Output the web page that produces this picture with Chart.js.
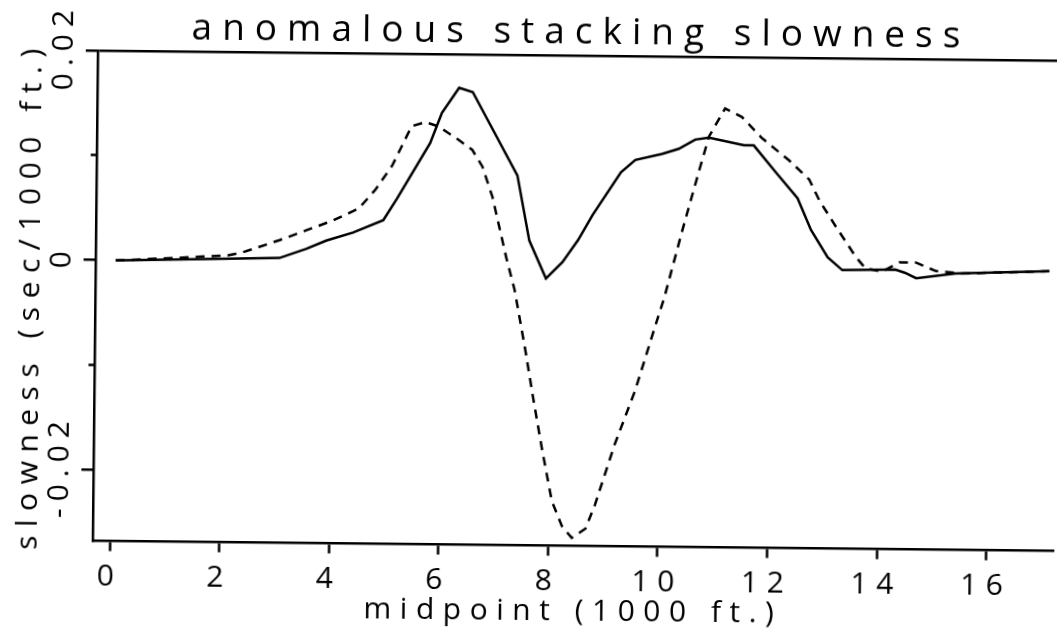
<!DOCTYPE html>
<html lang="en">
<head>
  <meta charset="UTF-8">
  <title>anomalous stacking slowness</title>
  <script src="https://cdn.jsdelivr.net/npm/chart.js"></script>
  <style>
    html, body { margin: 0; padding: 0; background: #fff; overflow: hidden; }
    /* the scanned plot sits slightly rotated on the page */
    #wrap { width: 1057px; height: 637px; transform: rotate(0.6deg); }
  </style>
</head>
<body>
  <div id="wrap"><canvas id="chart" width="1057" height="637"></canvas></div>

  <script>
    // midpoint (1000 ft.) and slowness (sec/1000 ft.)
    const solidX = [0.05, 3.04, 3.53, 3.89, 4.38, 4.93, 5.18, 5.77, 5.98, 6.29, 6.54, 7.37, 7.6, 7.91, 8.21, 8.49, 8.75,
                    9.26, 9.52, 10.01, 10.31, 10.61, 10.86, 11.5, 11.68, 12.08, 12.49, 12.74, 13.05, 13.32, 14.29, 14.47,
                    14.67, 15.39, 17.1];
    const solidY = [0, 0.0004, 0.0013, 0.0021, 0.0029, 0.0041, 0.0062, 0.0115, 0.0144, 0.0168, 0.0164, 0.0085, 0.0023,
                    -0.0013, 0.0003, 0.0024, 0.0048, 0.0089, 0.0101, 0.0107, 0.0112, 0.0121, 0.0123, 0.0116, 0.0116,
                    0.0091, 0.0066, 0.0036, 0.001, -0.0002, -0.0001, -0.0004, -0.0009, -0.0004, -0.0001];

    const dashX = [0.05, 1.15, 2.1, 2.37, 3.04, 4.0, 4.48, 4.78, 5.08, 5.43, 5.68, 5.92, 6.3, 6.54, 6.73, 6.92, 7.18,
                   7.34, 7.55, 7.71, 7.88, 8.06, 8.25, 8.43, 8.68, 8.85, 9.2, 9.56, 9.91, 10.07, 10.39, 10.69, 10.86,
                   11.15, 11.46, 11.83, 12.33, 12.7, 12.89, 13.2, 13.56, 13.74, 14.05, 14.36, 14.66, 15.03, 15.5, 17.1];
    const dashY = [0, 0.0003, 0.0006, 0.0009, 0.0021, 0.004, 0.0052, 0.007, 0.0093, 0.0131, 0.0135, 0.0131, 0.0118,
                   0.0109, 0.0093, 0.0064, 0.0007, -0.0024, -0.0082, -0.013, -0.0178, -0.0225, -0.0249, -0.026,
                   -0.0251, -0.0228, -0.017, -0.0119, -0.0058, -0.0031, 0.0034, 0.0092, 0.0124, 0.0151, 0.0143,
                   0.0123, 0.0102, 0.0084, 0.0064, 0.0039, 0.0011, 0, -0.0003, 0.0006, 0.0006, -0.0002, -0.0004,
                   -0.0001];

    const xTicks = [0, 2, 4, 6, 8, 10, 12, 14, 16];
    const yMajorTicks = [-0.02, 0, 0.02];
    const yMinorTicks = [-0.01, 0.01];
    const yTickLabels = ['-0.02', '0', '0.02'];

    const titleText = 'anomalous stacking slowness';
    const xTitle = 'midpoint (1000 ft.)';
    const yTitle = 'slowness (sec/1000 ft.)';

    const FAMILY = "'Open Sans', 'DejaVu Sans', sans-serif";
    const SPACING = 8.5;
    const TITLE_SPACING = 10;

    const toPoints = (xs, ys) => xs.map((x, i) => ({ x: x, y: ys[i] }));

    // plotter-style wide lettering, rotated y tick labels and the title
    const plotterText = {
      id: 'plotterText',
      beforeDraw(chart) {
        chart.ctx.letterSpacing = SPACING + 'px';
      },
      afterDraw(chart) {
        const ctx = chart.ctx;
        const yScale = chart.scales.y;
        ctx.save();
        ctx.fillStyle = '#000';
        ctx.font = '30px ' + FAMILY;
        ctx.letterSpacing = '7px';
        ctx.textAlign = 'left';
        ctx.textBaseline = 'middle';
        yMajorTicks.forEach((v, i) => {
          const label = yTickLabels[i];
          const w = ctx.measureText(label).width - 7;
          ctx.save();
          ctx.translate(61, yScale.getPixelForValue(v));
          ctx.rotate(-Math.PI / 2);
          ctx.fillText(label, -w / 2, 0);
          ctx.restore();
        });

        ctx.font = '37px ' + FAMILY;
        ctx.letterSpacing = TITLE_SPACING + 'px';
        ctx.textBaseline = 'alphabetic';
        const tw = ctx.measureText(titleText).width - TITLE_SPACING;
        ctx.fillText(titleText, 573 - tw / 2, 43);
        ctx.restore();
      }
    };

    const axisFont = { family: FAMILY, size: 30, weight: 'normal' };

    new Chart(document.getElementById('chart').getContext('2d'), {
      type: 'line',
      data: {
        datasets: [
          {
            label: 'solid',
            data: toPoints(solidX, solidY),
            borderColor: '#000',
            borderWidth: 2.5,
            pointRadius: 0,
            tension: 0
          },
          {
            label: 'dashed',
            data: toPoints(dashX, dashY),
            borderColor: '#000',
            borderWidth: 2.5,
            borderDash: [9, 7],
            pointRadius: 0,
            tension: 0
          }
        ]
      },
      options: {
        responsive: false,
        animation: false,
        devicePixelRatio: 1,
        layout: { padding: { top: 55, left: 0, right: 0, bottom: 0 } },
        plugins: {
          legend: { display: false },
          title: { display: false },
          tooltip: { enabled: false }
        },
        scales: {
          x: {
            type: 'linear',
            min: -0.316,
            max: 17.25,
            afterBuildTicks: s => { s.ticks = xTicks.map(v => ({ value: v })); },
            afterFit: s => { s.height = 91.5; },
            grid: { drawOnChartArea: false, drawTicks: true, tickLength: 10, tickWidth: 2.5, tickColor: '#000' },
            border: { display: true, color: '#000', width: 2.5 },
            ticks: { color: '#000', font: axisFont, padding: 8, maxRotation: 0, autoSkip: false,
                     callback: v => String(v) },
            title: { display: true, text: xTitle, color: '#000', font: axisFont, padding: { top: 0, bottom: 8 } }
          },
          y: {
            position: 'left',
            weight: 1,
            min: -0.02677,
            max: 0.02,
            afterBuildTicks: s => { s.ticks = yMajorTicks.map(v => ({ value: v })); },
            afterFit: s => { s.width = 95; },
            grid: {
              color: c => (c.tick && c.tick.value === 0.02 ? '#000' : 'rgba(0,0,0,0)'),
              lineWidth: 2.5,
              drawTicks: true,
              tickLength: 12,
              tickWidth: 2.5,
              tickColor: '#000'
            },
            border: { display: true, color: '#000', width: 2.5 },
            ticks: { display: false },
            title: { display: true, text: yTitle, color: '#000', font: axisFont, padding: { top: 12, bottom: 0 } }
          },
          y2: {
            position: 'left',
            weight: 0,
            min: -0.02677,
            max: 0.02,
            afterBuildTicks: s => { s.ticks = yMinorTicks.map(v => ({ value: v })); },
            afterFit: s => { s.width = 0; },
            grid: { drawOnChartArea: false, drawTicks: true, tickLength: 6, tickWidth: 2.5, tickColor: '#000' },
            border: { display: false },
            ticks: { display: false }
          }
        }
      },
      plugins: [plotterText]
    });
  </script>
</body>
</html>
